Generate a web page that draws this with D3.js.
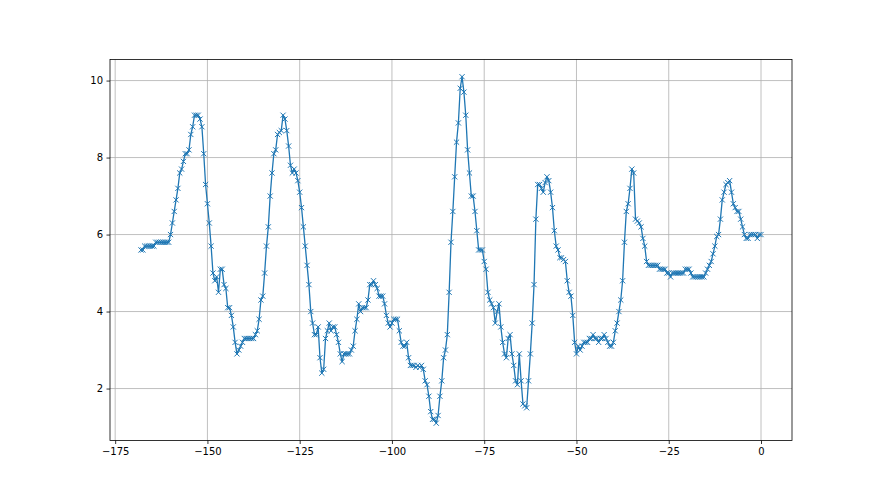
<!DOCTYPE html>
<html>
<head>
<meta charset="utf-8">
<script src="https://cdn.jsdelivr.net/npm/d3@7"></script>
<style>
  body { margin: 0; background: #ffffff; }
  .chart text { font-family: "DejaVu Sans", sans-serif; }
</style>
</head>
<body>
<div class="chart"></div>
<script>
// x runs from -168 to 0 in half steps
var xStart = -168;
var xStep = 0.5;

// values, one per half step
var values = [
  5.6, 5.6, 5.7, 5.7, 5.7, 5.7, 5.7, 5.7, 5.8, 5.8,
  5.8, 5.8, 5.8, 5.8, 5.8, 5.8, 6.0, 6.3, 6.6, 6.9,
  7.2, 7.6, 7.7, 7.9, 8.1, 8.1, 8.2, 8.6, 8.8, 9.1,
  9.1, 9.1, 9.0, 8.8, 8.1, 7.3, 6.8, 6.3, 5.7, 5.0,
  4.8, 4.9, 4.5, 5.1, 5.1, 4.7, 4.6, 4.1, 4.1, 3.9,
  3.6, 3.2, 2.9, 3.0, 3.1, 3.2, 3.3, 3.3, 3.3, 3.3,
  3.3, 3.3, 3.4, 3.5, 3.8, 4.3, 4.4, 5.0, 5.7, 6.2,
  7.0, 7.6, 8.1, 8.2, 8.6, 8.65, 8.7, 9.1, 9.0, 8.7,
  8.3, 7.8, 7.6, 7.7, 7.6, 7.4, 7.1, 6.7, 6.2, 5.7,
  5.2, 4.7, 4.0, 3.7, 3.4, 3.4, 3.6, 2.8, 2.4, 2.5,
  3.3, 3.5, 3.7, 3.5, 3.6, 3.6, 3.4, 3.2, 2.9, 2.7,
  2.9, 2.9, 2.9, 2.9, 3.0, 3.1, 3.5, 3.8, 4.2, 4.0,
  4.1, 4.1, 4.1, 4.3, 4.7, 4.7, 4.8, 4.7, 4.6, 4.4,
  4.4, 4.4, 4.2, 3.9, 3.7, 3.6, 3.7, 3.8, 3.8, 3.8,
  3.5, 3.2, 3.1, 3.1, 3.2, 2.8, 2.6, 2.6, 2.6, 2.55,
  2.6, 2.55, 2.6, 2.5, 2.2, 2.1, 1.8, 1.4, 1.2, 1.2,
  1.1, 1.3, 1.8, 2.2, 2.8, 3.0, 3.4, 4.5, 5.8, 6.6,
  7.5, 8.4, 8.9, 9.8, 10.1, 9.7, 9.1, 8.2, 7.6, 7.0,
  7.0, 6.6, 6.1, 5.6, 5.6, 5.6, 5.3, 5.1, 4.5, 4.3,
  4.2, 4.1, 3.7, 4.0, 4.2, 3.6, 3.2, 2.9, 2.8, 3.3,
  3.4, 2.9, 2.6, 2.2, 2.1, 2.9, 2.2, 1.6, 1.55, 1.5,
  2.2, 2.9, 3.7, 4.7, 6.4, 7.3, 7.3, 7.2, 7.1, 7.35,
  7.5, 7.4, 7.1, 6.7, 6.1, 5.7, 5.6, 5.4, 5.4, 5.35,
  5.3, 4.8, 4.5, 4.4, 3.9, 3.2, 2.9, 3.1, 3.0, 3.1,
  3.2, 3.2, 3.2, 3.3, 3.3, 3.4, 3.3, 3.3, 3.2, 3.3,
  3.3, 3.4, 3.3, 3.2, 3.1, 3.1, 3.2, 3.5, 3.7, 4.0,
  4.3, 4.8, 5.8, 6.6, 6.8, 7.2, 7.7, 7.6, 6.4, 6.35,
  6.3, 6.2, 5.9, 5.7, 5.3, 5.2, 5.2, 5.2, 5.2, 5.2,
  5.2, 5.1, 5.1, 5.1, 5.1, 5.0, 5.0, 4.9, 5.0, 5.0,
  5.0, 5.0, 5.0, 5.0, 5.0, 5.1, 5.1, 5.1, 5.0, 4.9,
  4.9, 4.9, 4.9, 4.9, 4.9, 4.9, 5.0, 5.1, 5.2, 5.3,
  5.5, 5.7, 5.95, 6.0, 6.4, 6.9, 7.1, 7.3, 7.35, 7.4,
  7.1, 6.8, 6.7, 6.6, 6.6, 6.4, 6.2, 6.0, 5.9, 5.9,
  6.0, 6.0, 6.0, 6.0, 5.9, 6.0, 6.0
];

// tick values
var xTicks = [-175, -150, -125, -100, -75, -50, -25, 0];
var yTicks = [2, 4, 6, 8, 10];

var svgWidth = 880;
var svgHeight = 495;

var margin = {
  top: 59.4,
  right: 88,
  bottom: 54.5,
  left: 110
};

var width = svgWidth - margin.left - margin.right;
var height = svgHeight - margin.top - margin.bottom;

var points = values.map(function(v, i) {
  return { x: xStart + i * xStep, y: v };
});

var svg = d3.select(".chart")
  .append("svg")
  .attr("width", svgWidth)
  .attr("height", svgHeight);

var chartGroup = svg.append("g")
  .attr("transform", `translate(${margin.left}, ${margin.top})`);

// Scales with 5% padding like matplotlib
// ==============================
var xExt = d3.extent(points, d => d.x);
var yExt = d3.extent(points, d => d.y);
var xPad = (xExt[1] - xExt[0]) * 0.05;
var yPad = (yExt[1] - yExt[0]) * 0.05;

var xScale = d3.scaleLinear()
  .domain([xExt[0] - xPad, xExt[1] + xPad])
  .range([0, width]);

var yScale = d3.scaleLinear()
  .domain([yExt[0] - yPad, yExt[1] + yPad])
  .range([height, 0]);

var fmt = function(d) { return d < 0 ? "\u2212" + Math.abs(d) : "" + d; };

// Grid lines
// ==============================
chartGroup.append("g")
  .selectAll("line")
  .data(xTicks)
  .enter()
  .append("line")
  .attr("x1", d => xScale(d))
  .attr("x2", d => xScale(d))
  .attr("y1", 0)
  .attr("y2", height)
  .attr("stroke", "#b0b0b0")
  .attr("stroke-width", 0.8);

chartGroup.append("g")
  .selectAll("line")
  .data(yTicks)
  .enter()
  .append("line")
  .attr("x1", 0)
  .attr("x2", width)
  .attr("y1", d => yScale(d))
  .attr("y2", d => yScale(d))
  .attr("stroke", "#b0b0b0")
  .attr("stroke-width", 0.8);

// Axes
// ==============================
var bottomAxis = d3.axisBottom(xScale)
  .tickValues(xTicks)
  .tickSize(3.5)
  .tickPadding(3.5)
  .tickFormat(fmt);

var leftAxis = d3.axisLeft(yScale)
  .tickValues(yTicks)
  .tickSize(3.5)
  .tickPadding(3.5)
  .tickFormat(fmt);

var xAxisG = chartGroup.append("g")
  .attr("transform", `translate(0, ${height})`)
  .call(bottomAxis);

var yAxisG = chartGroup.append("g")
  .call(leftAxis);

[xAxisG, yAxisG].forEach(function(g) {
  g.select(".domain").remove();
  g.selectAll(".tick line").attr("stroke", "#000").attr("stroke-width", 0.8);
  g.selectAll(".tick text")
    .attr("fill", "#000")
    .attr("font-size", "10px")
    .attr("font-family", "DejaVu Sans, sans-serif");
});

// Frame
chartGroup.append("rect")
  .attr("x", 0)
  .attr("y", 0)
  .attr("width", width)
  .attr("height", height)
  .attr("fill", "none")
  .attr("stroke", "#000")
  .attr("stroke-width", 0.8);

// Line and markers
// ==============================
var line = d3.line()
  .x(d => xScale(d.x))
  .y(d => yScale(d.y));

chartGroup.append("path")
  .datum(points)
  .attr("d", line)
  .attr("fill", "none")
  .attr("stroke", "#1f77b4")
  .attr("stroke-width", 1.3)
  .attr("stroke-linejoin", "round");

var m = 2.6;
chartGroup.append("g")
  .selectAll("path")
  .data(points)
  .enter()
  .append("path")
  .attr("d", function(d) {
    var cx = xScale(d.x), cy = yScale(d.y);
    return `M${cx - m},${cy - m}L${cx + m},${cy + m}M${cx - m},${cy + m}L${cx + m},${cy - m}`;
  })
  .attr("stroke", "#1f77b4")
  .attr("stroke-width", 1)
  .attr("fill", "none");
</script>
</body>
</html>
